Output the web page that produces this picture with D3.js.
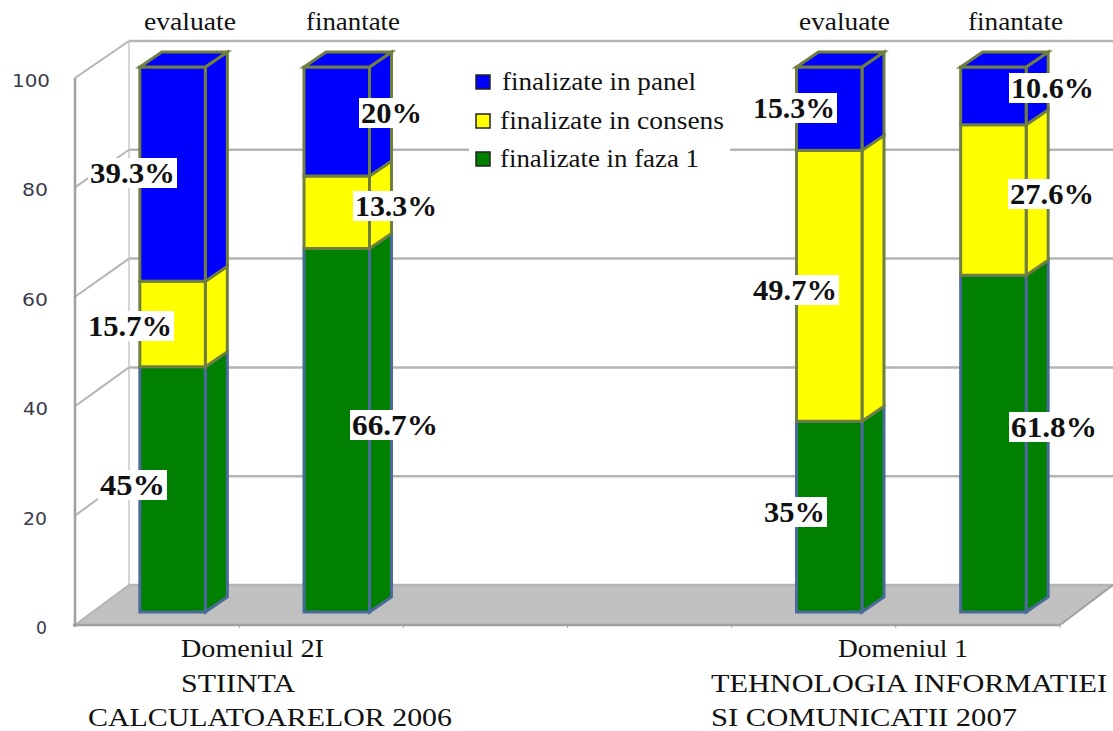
<!DOCTYPE HTML>
<html lang="en">
<head>
  <meta charset="utf-8">
  <title>Domenii</title>
  <script src="https://d3js.org/d3.v7.min.js"></script>
  <style>
    html, body { margin: 0; padding: 0; background: #fff; }
    svg { display: block; }
    text { font-family: "Liberation Serif", serif; fill: #111; }
  </style>
</head>
<body>
<div id="stage"></div>
<script>
  // values
  var slots = ["evaluate2", "finantate2", "gap1", "gap2", "evaluate1", "finantate1"];
  var barSlots = ["evaluate2", "finantate2", "evaluate1", "finantate1"];
  var barNames = ["evaluate", "finantate", "evaluate", "finantate"];
  var faza1 = [45, 66.7, 35, 61.8];
  var consens = [15.7, 13.3, 49.7, 27.6];
  var panel = [39.3, 20, 15.3, 10.6];
  var seriesNames = ["finalizate in panel", "finalizate in consens", "finalizate in faza 1"];
  var seriesColors = ["#0000ff", "#ffff00", "#008000"];
  var yTicks = [0, 20, 40, 60, 80, 100];
  var groupLabels = [
    ["Domeniul 2I", "STIINTA", "CALCULATOARELOR 2006"],
    ["Domeniul 1", "TEHNOLOGIA INFORMATIEI", "SI COMUNICATII 2007"]
  ];

  var W = 1113, H = 731;
  var svg = d3.select("#stage").append("svg").attr("width", W).attr("height", H);

  var x = d3.scaleBand().domain(slots).range([75, 1060]);
  var yFront = d3.scaleLinear().domain([0, 100]).range([625, 78]);
  var yBack = d3.scaleLinear().domain([0, 100]).range([585, 41]);
  var yBar = d3.scaleLinear().domain([0, 100]).range([612, 67]);
  var dx = 54;
  var barW = 65.5, barDx = 22, barDy = -15, barShift = 15.5;
  var gridCol = "#b4b4b4";

  // text stretched to the measured span, the source picture is wider than the font
  function put(parent, str, left, right, base, size, bold) {
    return parent.append("text")
      .attr("x", left).attr("y", base)
      .attr("textLength", right - left)
      .attr("lengthAdjust", "spacingAndGlyphs")
      .style("font-size", size + "px")
      .style("font-weight", bold ? "bold" : "normal")
      .text(str);
  }

  // floor
  svg.append("polygon")
    .attr("points", [[75, 625], [75 + dx, 585], [1113, 585], [1060, 625]].join(" "))
    .attr("fill", "#c0c0c0");

  // back wall grid
  svg.selectAll(".grid").data(yTicks).enter().append("line")
    .attr("x1", 75 + dx).attr("x2", 1113)
    .attr("y1", function(d) { return yBack(d); })
    .attr("y2", function(d) { return yBack(d); })
    .attr("stroke", gridCol).attr("stroke-width", 2.5);
  svg.append("line").attr("x1", 75 + dx).attr("x2", 75 + dx).attr("y1", 41).attr("y2", 585)
    .attr("stroke", "#c8c8c8").attr("stroke-width", 1.5);

  // left wall
  svg.selectAll(".wall").data(yTicks).enter().append("line")
    .attr("x1", 75).attr("x2", 75 + dx)
    .attr("y1", function(d) { return yFront(d); })
    .attr("y2", function(d) { return yBack(d); })
    .attr("stroke", gridCol).attr("stroke-width", 2);
  svg.append("line").attr("x1", 75).attr("x2", 75).attr("y1", 78).attr("y2", 627)
    .attr("stroke", "#a0a0a0").attr("stroke-width", 2.5);

  // front edge with ticks
  svg.append("line").attr("x1", 73).attr("x2", 1060).attr("y1", 625).attr("y2", 625)
    .attr("stroke", "#a0a0a0").attr("stroke-width", 2.5);
  svg.append("line").attr("x1", 1060).attr("x2", 1113).attr("y1", 625).attr("y2", 585)
    .attr("stroke", "#a0a0a0").attr("stroke-width", 2);
  svg.selectAll(".tick").data(slots).enter().append("line")
    .attr("x1", function(d) { return x(d) + x.bandwidth(); })
    .attr("x2", function(d) { return x(d) + x.bandwidth(); })
    .attr("y1", 625).attr("y2", 628)
    .attr("stroke", "#a0a0a0").attr("stroke-width", 1);

  // y labels
  var tickSpans = [[36, 47], [23, 47], [23, 48], [22, 48], [22, 48], [12, 50]];
  yTicks.forEach(function(d, i) {
    put(svg, d, tickSpans[i][0], tickSpans[i][1], yFront(d) + 9, 18, false)
      .style("font-family", "'DejaVu Sans', sans-serif")
      .style("fill", "#3a3a4a");
  });

  // bars
  function barLeft(i) {
    return x(barSlots[i]) + x.bandwidth() / 2 + barShift - barW / 2;
  }
  var stacks = barSlots.map(function(s, i) {
    return [
      { from: 0, to: faza1[i], color: seriesColors[2], edge: "#4a6a9a" },
      { from: faza1[i], to: faza1[i] + consens[i], color: seriesColors[1], edge: "#6f7f3f" },
      { from: faza1[i] + consens[i], to: faza1[i] + consens[i] + panel[i], color: seriesColors[0], edge: "#6f7f3f" }
    ];
  });

  stacks.forEach(function(stack, i) {
    var l = barLeft(i), r = l + barW;
    var g = svg.append("g");
    stack.forEach(function(seg) {
      var y0 = yBar(seg.from), y1 = yBar(seg.to);
      g.append("polygon")
        .attr("points", [[r, y0], [r + barDx, y0 + barDy], [r + barDx, y1 + barDy], [r, y1]].join(" "))
        .attr("fill", seg.color).attr("stroke", seg.edge).attr("stroke-width", 3);
      g.append("rect")
        .attr("x", l).attr("y", y1).attr("width", barW).attr("height", y0 - y1)
        .attr("fill", seg.color).attr("stroke", seg.edge).attr("stroke-width", 3);
    });
    var top = stack[2];
    var yt = yBar(top.to);
    g.append("polygon")
      .attr("points", [[l, yt], [l + barDx, yt + barDy], [r + barDx, yt + barDy], [r, yt]].join(" "))
      .attr("fill", top.color).attr("stroke", top.edge).attr("stroke-width", 3);
  });

  // legend box sits over the grid
  svg.append("rect").attr("x", 469).attr("y", 62).attr("width", 261).attr("height", 116).attr("fill", "#fff");
  var legMid = [82, 121, 159];
  var legSpans = [[502, 696], [500, 724], [500, 699]];
  var legBase = [90, 129, 167];
  seriesNames.forEach(function(n, i) {
    svg.append("rect").attr("x", 476).attr("y", legMid[i] - 7).attr("width", 14).attr("height", 14)
      .attr("fill", seriesColors[i]).attr("stroke", "#222").attr("stroke-width", 1.5);
    put(svg, n, legSpans[i][0], legSpans[i][1], legBase[i], 25, false);
  });

  // data labels, spans per bar in faza 1 / consens / panel order
  var labelSpans = [
    [[100, 165], [88, 172], [90, 175]],
    [[352, 438], [355, 437], [361, 422]],
    [[764, 825], [753, 837], [753, 835]],
    [[1011, 1097], [1010, 1094], [1011, 1094]]
  ];
  var labelMid = [
    [485, 326, 173],
    [425, 206, 113],
    [512, 290, 108],
    [427, 194, 88]
  ];
  labelSpans.forEach(function(row, i) {
    var vals = [faza1[i], consens[i], panel[i]];
    row.forEach(function(sp, j) {
      svg.append("rect")
        .attr("x", sp[0] - 2).attr("y", labelMid[i][j] - 15)
        .attr("width", sp[1] - sp[0] + 4).attr("height", 30)
        .attr("fill", "#fff");
      put(svg, vals[j] + "%", sp[0], sp[1], labelMid[i][j] + 10, 29, true);
    });
  });

  // headers above bars
  var headSpans = [[144, 236], [306, 400], [799, 890], [968, 1063]];
  barNames.forEach(function(n, i) {
    put(svg, n, headSpans[i][0], headSpans[i][1], 30, 26, false);
  });

  // category text
  var lineY = [657, 692, 726];
  var lineSpans = [
    [[181, 324], [181, 295], [88, 452]],
    [[838, 968], [711, 1107], [711, 1017]]
  ];
  groupLabels.forEach(function(lines, g) {
    lines.forEach(function(s, k) {
      put(svg, s, lineSpans[g][k][0], lineSpans[g][k][1], lineY[k], 26, false);
    });
  });
</script>
</body>
</html>
